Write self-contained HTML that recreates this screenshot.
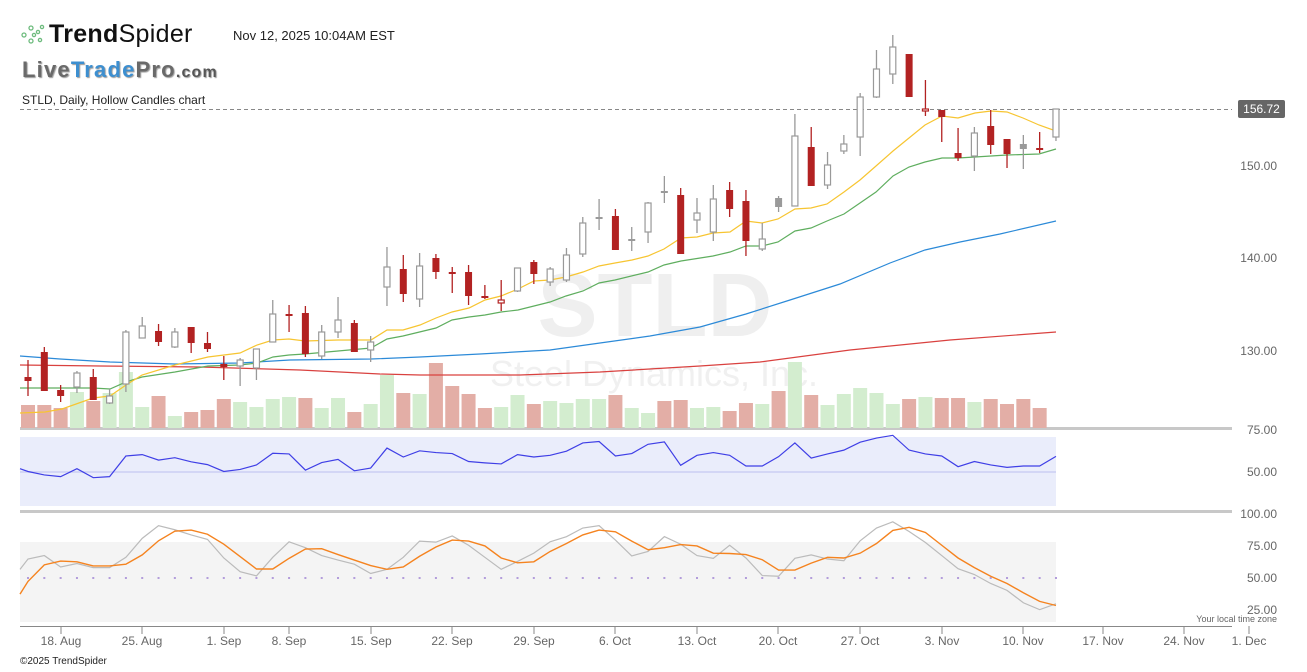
<!DOCTYPE html>
<html><head><meta charset="utf-8">
<style>
html,body{margin:0;padding:0;background:#fff;}
body{width:1307px;height:672px;overflow:hidden;position:relative;font-family:"Liberation Sans",sans-serif;}
.t{position:absolute;white-space:nowrap;}
</style></head>
<body>
<svg id="c" width="1307" height="672" style="position:absolute;left:0;top:0" xmlns="http://www.w3.org/2000/svg"></svg>
<div class="t" style="left:20px;top:23px;">
  <svg width="26" height="24" style="vertical-align:middle">
    <g fill="none" stroke="#6dbb7d" stroke-width="1.3">
      <circle cx="4" cy="12" r="2"/><circle cx="11" cy="5" r="2"/><circle cx="11" cy="18" r="2"/><circle cx="18" cy="9" r="1.6"/><circle cx="22" cy="4" r="1.6"/><circle cx="20" cy="17" r="1.6"/><circle cx="14" cy="12" r="1.6"/>
    </g>
  </svg>
</div>
<div class="t" style="left:49px;top:20px;font-size:25px;color:#111;letter-spacing:0.3px"><b>Trend</b>Spider</div>
<div class="t" style="left:233px;top:28px;font-size:13px;color:#222">Nov 12, 2025 10:04AM EST</div>
<div class="t" style="left:22px;top:57px;font-size:22px;font-weight:900;letter-spacing:1.2px;text-shadow:1px 1px 1px #999;"><span style="color:#6a6a6a">Live</span><span style="color:#3d8fd0">Trade</span><span style="color:#6a6a6a">Pro</span><span style="color:#555;font-size:16px">.com</span></div>
<div class="t" style="left:22px;top:93px;font-size:12px;color:#222">STLD, Daily, Hollow Candles chart</div>
<div class="t" style="left:20px;top:656px;font-size:10px;color:#222">©2025 TrendSpider</div>
<script>
const S=document.getElementById('c');let h='';
const X=i=>28+i*16.317;
h+='<text x="655" y="336" text-anchor="middle" font-family="Liberation Sans" font-weight="bold" font-size="90" fill="#efefef">STLD</text>';
h+='<text x="654" y="386" text-anchor="middle" font-family="Liberation Sans" font-size="36" fill="#f0f0f0">Steel Dynamics, Inc.</text>';
h+='<rect x="20" y="437" width="1036" height="69" fill="#eaedfb"/>';
h+='<line x1="20" y1="472" x2="1056" y2="472" stroke="#d3d6f5" stroke-width="2"/>';
h+='<rect x="20" y="542" width="1036" height="80" fill="#f4f4f4"/>';
for(let x=28;x<1056;x+=16.317)h+='<rect x="'+(x-1)+'" y="577" width="2" height="2" fill="#b39ddb"/>';
h+='<rect x="20" y="427" width="1212" height="3" fill="#c8c8c8"/>';
h+='<rect x="20" y="510" width="1212" height="3" fill="#c8c8c8"/>';
h+='<line x1="20" y1="626.5" x2="1232" y2="626.5" stroke="#888"/>';
const vt=[405,405,408,392,401,393,372,407,396,416,412,410,399,402,407,399,397,398,408,398,412,404,375,393,394,363,386,394,408,407,395,404,401,403,399,399,395,408,413,401,400,408,407,411,403,404,391,362,395,405,394,388,393,404,399,397,398,398,402,399,404,399,408];
const vc="rrrgrgggrgrrrggggrggrggrgrrrrggrggggrggrrggrrgrgrgggggrgrrgrrrr";
vt.forEach((t,i)=>{h+='<rect x="'+(X(i)-7)+'" y="'+t+'" width="14" height="'+(428-t)+'" fill="'+(vc[i]=='r'?'#e3aea6':'#d3edcf')+'"/>';});
function pl(pts,c,w){h+='<polyline fill="none" stroke="'+c+'" stroke-width="'+(w||1.2)+'" points="'+pts+'"/>';}
pl("20,365 100,366 200,367 300,370 380,374 420,375 520,375 600,372 700,366 760,362 850,350 950,340 1056,332","#d9413f");
pl("20,356 60,359 110,362 175,364 240,363 290,360 371,359 420,357 480,354 550,350 600,343 650,336 700,327 746,314 790,300 840,284 890,263 925,250 960,242 1000,234 1056,221","#2c8ad8");
pl("20,388 93,388 110,389 126,382 142,377 175,372 208,366 240,365 257,363 273,357 289,355 305,354 338,351 371,348 387,339 403,336 436,328 452,320 469,317 485,315 501,312 518,310 550,302 566,296 583,291 599,283 615,280 648,272 664,265 681,261 713,256 730,252 746,246 762,246 778,242 795,231 811,228 827,221 844,214 860,203 876,192 893,176 909,167 925,162 942,158 958,158 975,157 1007,155 1039,154 1056,149","#5fae5f");
pl("20,413 45,412 62,409 93,398 110,396 126,385 142,375 175,365 208,357 240,353 257,345 273,340 289,339 305,341 338,340 371,340 387,330 403,330 420,325 436,318 452,312 469,308 485,300 501,296 518,289 534,281 550,280 566,277 583,272 599,266 615,263 632,260 648,256 664,249 681,238 697,237 713,233 730,232 746,221 762,223 778,219 795,209 811,208 827,204 844,192 860,180 876,166 893,151 909,138 925,125 942,116 958,118 975,113 991,111 1007,112 1023,118 1039,125 1056,131","#f7c531");
h+='<line x1="20" y1="109.5" x2="1232" y2="109.5" stroke="#888" stroke-dasharray="4,3"/>';
const C=[["r",377,381,360,396],["r",352,391,347,391],["r",390,396,385,402],["h",373,387,371,393],["r",377,400,369,400],["h",396,403,389,404],["h",332,384,330,392],["h",326,338,317,338],["r",331,342,324,346],["h",332,347,328,348],["r",327,343,327,353],["r",343,349,332,352],["r",364,367,356,380],["h",360,366,358,386],["h",349,368,349,380],["h",314,342,300,342],["r",314,316,305,332],["r",313,354,306,357],["h",332,356,325,359],["h",320,332,297,338],["r",323,352,320,352],["h",342,350,336,362],["h",267,287,247,306],["r",269,294,255,302],["h",266,299,253,307],["r",258,272,254,279],["r",272,274,267,293],["r",272,296,265,305],["r",296,298,285,299],["hr",300,303,280,311],["h",268,291,268,292],["r",262,274,260,284],["h",269,282,267,286],["h",255,280,248,282],["h",223,254,217,257],["g",217,219,199,230],["r",216,250,209,250],["g",239,241,227,251],["h",203,232,202,243],["g",191,193,176,203],["r",195,254,188,254],["h",213,220,198,233],["h",199,232,185,241],["r",190,209,182,217],["r",201,241,190,256],["h",239,249,223,251],["g",198,207,196,212],["h",136,206,114,206],["r",147,186,127,186],["h",165,185,152,189],["h",144,151,135,154],["h",97,137,93,156],["h",69,97,50,98],["h",47,74,35,84],["r",54,97,54,97],["hr",109,111,80,116],["r",110,117,110,142],["r",153,158,128,161],["h",133,156,127,171],["r",126,145,110,154],["r",139,154,139,168],["g",144,149,135,169],["r",148,149,132,153],["h",109,137,109,141]];
C.forEach((c,i)=>{const x=X(i),t=c[0];const col=(t=="r"||t=="hr")?"#b22222":"#999";
 h+='<line x1="'+x+'" y1="'+c[3]+'" x2="'+x+'" y2="'+c[4]+'" stroke="'+col+'" stroke-width="1.3"/>';
 const bh=Math.max(c[2]-c[1],2);
 if(t=="r"||t=="g")h+='<rect x="'+(x-3.5)+'" y="'+c[1]+'" width="7" height="'+bh+'" fill="'+(t=="r"?"#b22222":"#9a9a9a")+'"/>';
 else h+='<rect x="'+(x-3)+'" y="'+c[1]+'" width="6" height="'+bh+'" fill="#fff" stroke="'+col+'" stroke-width="1.2"/>';});
const rsi=[135,145,150,127,153,150,90,86,102,95,107,115,135,129,116,82,84,131,109,100,133,125,67,93,75,80,83,106,110,113,86,93,88,76,52,48,90,83,56,49,117,88,80,88,119,119,92,52,96,84,73,50,38,30,73,84,90,121,106,116,123,119,119,91];
let p='20,'+(425+127/2.904)+' ';rsi.forEach((v,i)=>{p+=X(i)+','+(425+v/2.904)+' ';});pl(p,"#3f3fe6",1.2);
const sk=[395,385,418,408,420,420,390,335,298,310,325,338,392,432,444,390,345,362,385,398,410,437,425,390,343,346,328,355,390,425,402,378,345,330,305,298,340,386,373,330,352,385,393,355,392,443,445,393,383,395,400,342,305,287,315,347,385,423,440,466,486,522,542,525];
const sd=[460,412,401,403,415,415,410,383,342,314,311,323,352,388,424,424,393,366,365,382,398,414,425,418,387,360,340,343,357,392,406,403,373,350,325,311,316,343,368,362,353,357,378,379,382,397,427,427,407,390,392,378,350,312,303,318,355,392,420,445,466,493,518,530];
const Y2=v=>425+v/2.904-2;
p='20,'+Y2(425)+' ';sk.forEach((v,i)=>{p+=X(i)+','+Y2(v)+' ';});pl(p,"#bbb",1.2);
p='20,'+Y2(497)+' ';sd.forEach((v,i)=>{p+=X(i)+','+Y2(v)+' ';});pl(p,"#f5831f",1.4);
[["150.00",166],["140.00",258],["130.00",351],["75.00",430],["50.00",472],["100.00",514],["75.00",546],["50.00",578],["25.00",610]].forEach(a=>{h+='<text x="1277" y="'+(a[1]+4)+'" text-anchor="end" font-family="Liberation Sans" font-size="12" fill="#666">'+a[0]+'</text>';});
h+='<rect x="1238" y="100" width="47" height="18" rx="2" fill="#666"/><text x="1261.5" y="113" text-anchor="middle" font-family="Liberation Sans" font-size="12" fill="#fff">156.72</text>';
h+='<text x="1277" y="622" text-anchor="end" font-family="Liberation Sans" font-size="9" fill="#666">Your local time zone</text>';
[["18. Aug",61],["25. Aug",142],["1. Sep",224],["8. Sep",289],["15. Sep",371],["22. Sep",452],["29. Sep",534],["6. Oct",615],["13. Oct",697],["20. Oct",778],["27. Oct",860],["3. Nov",942],["10. Nov",1023],["17. Nov",1103],["24. Nov",1184],["1. Dec",1249]].forEach(a=>{
 h+='<line x1="'+a[1]+'" y1="626" x2="'+a[1]+'" y2="634" stroke="#888"/>';
 h+='<text x="'+a[1]+'" y="645" text-anchor="middle" font-family="Liberation Sans" font-size="12" fill="#666">'+a[0]+'</text>';});
S.innerHTML=h;
</script>
</body></html>
